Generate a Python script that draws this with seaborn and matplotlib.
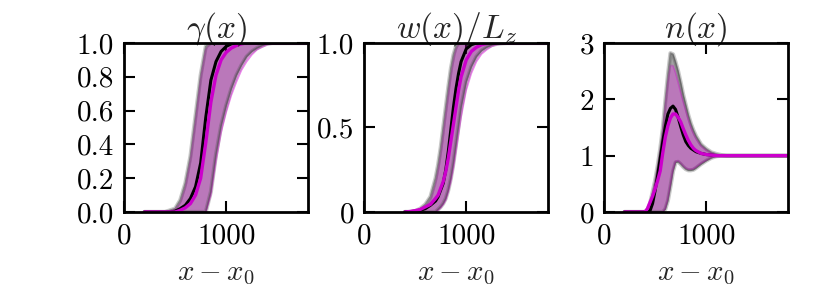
import numpy as np
import matplotlib
matplotlib.use("Agg")
import matplotlib.pyplot as plt
import seaborn as sns

# ---------------------------------------------
# data (x - x0 grid per panel)
# ---------------------------------------------

# panel 1 : gamma(x)
x1 = [200, 300, 400, 450, 500, 550, 600, 650, 700, 750, 800, 850, 900, 950,
      1000, 1050, 1100, 1150, 1200, 1250, 1300, 1350, 1400, 1450, 1500, 1600, 1700, 1800]
k_hi1 = [0, 0, 0, 0.01, 0.02, 0.07, 0.17, 0.33, 0.57, 0.81, 0.98, 1, 1, 1,
         1, 1, 1, 1, 1, 1, 1, 1, 1, 1, 1, 1, 1, 1]
k_lo1 = [0, 0, 0, 0, 0, 0, 0, 0, 0, 0, 0, 0.12, 0.34, 0.51,
         0.63, 0.73, 0.81, 0.87, 0.92, 0.95, 0.97, 0.985, 0.995, 1, 1, 1, 1, 1]
m_hi1 = [0, 0, 0, 0.005, 0.015, 0.05, 0.14, 0.30, 0.53, 0.78, 0.96, 1, 1, 1,
         1, 1, 1, 1, 1, 1, 1, 1, 1, 1, 1, 1, 1, 1]
m_lo1 = [0, 0, 0, 0, 0, 0, 0, 0, 0, 0, 0, 0.10, 0.30, 0.47,
         0.59, 0.69, 0.77, 0.84, 0.89, 0.93, 0.96, 0.975, 0.99, 0.995, 1, 1, 1, 1]
k_mean1 = [0, 0, 0, 0, 0.005, 0.02, 0.04, 0.08, 0.15, 0.29, 0.56, 0.78, 0.89, 0.95,
           0.98, 0.995, 1, 1, 1, 1, 1, 1, 1, 1, 1, 1, 1, 1]
m_mean1 = [0, 0, 0, 0, 0, 0.01, 0.025, 0.05, 0.10, 0.20, 0.41, 0.65, 0.81, 0.90,
           0.945, 0.97, 0.985, 0.995, 1, 1, 1, 1, 1, 1, 1, 1, 1, 1]

# panel 2 : w(x)/Lz
x2 = [400, 450, 500, 550, 600, 650, 700, 725, 750, 775, 800, 825, 850, 875, 900,
      925, 950, 1000, 1050, 1100, 1150, 1200, 1250, 1300, 1350, 1400, 1500, 1600, 1800]
k_hi2 = [0, 0, 0.005, 0.02, 0.045, 0.09, 0.20, 0.28, 0.38, 0.50, 0.62, 0.74, 0.85, 0.93, 0.98,
         1, 1, 1, 1, 1, 1, 1, 1, 1, 1, 1, 1, 1, 1]
k_lo2 = [0, 0, 0, 0, 0, 0, 0, 0.015, 0.03, 0.05, 0.08, 0.13, 0.20, 0.29, 0.40,
         0.51, 0.62, 0.77, 0.86, 0.92, 0.955, 0.975, 0.988, 0.995, 0.998, 1, 1, 1, 1]
m_hi2 = [0, 0, 0.003, 0.012, 0.03, 0.065, 0.16, 0.24, 0.33, 0.45, 0.57, 0.69, 0.80, 0.89, 0.96,
         0.99, 1, 1, 1, 1, 1, 1, 1, 1, 1, 1, 1, 1, 1]
m_lo2 = [0, 0, 0, 0, 0, 0, 0, 0.01, 0.025, 0.045, 0.07, 0.12, 0.18, 0.26, 0.36,
         0.46, 0.56, 0.72, 0.82, 0.89, 0.935, 0.96, 0.98, 0.99, 0.995, 0.998, 1, 1, 1]
k_mean2 = [0, 0.002, 0.005, 0.01, 0.02, 0.04, 0.065, 0.09, 0.13, 0.17, 0.25, 0.36, 0.49, 0.62, 0.73,
           0.82, 0.89, 0.965, 0.99, 1, 1, 1, 1, 1, 1, 1, 1, 1, 1]
m_mean2 = [0, 0.003, 0.008, 0.015, 0.03, 0.045, 0.08, 0.10, 0.14, 0.18, 0.24, 0.32, 0.42, 0.52, 0.62,
           0.72, 0.80, 0.90, 0.95, 0.975, 0.99, 0.997, 1, 1, 1, 1, 1, 1, 1]

# panel 3 : n(x)
x3 = [200, 300, 400, 425, 450, 475, 500, 525, 550, 575, 600, 625, 650, 675, 700, 725, 750,
      775, 800, 825, 850, 875, 900, 950, 1000, 1050, 1100, 1150, 1200, 1300, 1400, 1600, 1800]
k_hi3 = [0, 0, 0, 0.03, 0.15, 0.35, 0.56, 0.82, 1.12, 1.48, 1.97, 2.43, 2.82, 2.80, 2.66, 2.50, 2.30,
         2.08, 1.90, 1.72, 1.57, 1.45, 1.35, 1.20, 1.12, 1.06, 1.03, 1.01, 1, 1, 1, 1, 1]
k_lo3 = [0, 0, 0, 0, 0, 0, 0, 0, 0, 0, 0.05, 0.20, 0.45, 0.72, 0.88, 0.89, 0.85,
         0.80, 0.76, 0.74, 0.74, 0.75, 0.78, 0.85, 0.91, 0.96, 0.99, 1, 1, 1, 1, 1, 1]
m_hi3 = [0, 0, 0, 0.02, 0.12, 0.32, 0.53, 0.78, 1.07, 1.42, 1.88, 2.30, 2.60, 2.60, 2.47, 2.30, 2.12,
         1.95, 1.80, 1.64, 1.50, 1.39, 1.30, 1.17, 1.10, 1.05, 1.02, 1.005, 1, 1, 1, 1, 1]
m_lo3 = [0, 0, 0, 0, 0, 0, 0, 0, 0, 0, 0.07, 0.24, 0.50, 0.76, 0.90, 0.91, 0.87,
         0.82, 0.78, 0.76, 0.76, 0.77, 0.80, 0.87, 0.92, 0.97, 0.99, 1, 1, 1, 1, 1, 1]
k_mean3 = [0, 0, 0, 0, 0.02, 0.15, 0.38, 0.65, 0.95, 1.25, 1.52, 1.74, 1.84, 1.88, 1.82, 1.68, 1.52,
           1.37, 1.25, 1.18, 1.13, 1.10, 1.07, 1.04, 1.02, 1.01, 1, 1, 1, 1, 1, 1, 1]
m_mean3 = [0, 0, 0, 0.06, 0.17, 0.28, 0.41, 0.56, 0.73, 1.05, 1.33, 1.53, 1.67, 1.74, 1.74, 1.68, 1.60,
           1.48, 1.37, 1.27, 1.19, 1.13, 1.09, 1.04, 1.02, 1.01, 1, 1, 1, 1, 1, 1, 1]

titles = [r'$\gamma(x)$', r'$w(x)/L_z$', r'$n(x)$']
xlabel = r'$x-x_0$'
yticks = [[0, 0.2, 0.4, 0.6, 0.8, 1.0], [0, 0.5, 1.0], [0, 1, 2, 3]]
yticklabels = [['0.0', '0.2', '0.4', '0.6', '0.8', '1.0'], ['0', '0.5', '1.0'], ['0', '1', '2', '3']]
ylims = [(0, 1), (0, 1), (0, 3)]

panels = [
    (x1, k_hi1, k_lo1, m_hi1, m_lo1, k_mean1, m_mean1),
    (x2, k_hi2, k_lo2, m_hi2, m_lo2, k_mean2, m_mean2),
    (x3, k_hi3, k_lo3, m_hi3, m_lo3, k_mean3, m_mean3),
]

# ---------------------------------------------
# style
# ---------------------------------------------
sns.set_style('ticks')
plt.rcParams['font.family'] = 'serif'
plt.rcParams['font.serif'] = ['cmr10', 'DejaVu Serif']
plt.rcParams['mathtext.fontset'] = 'cm'
plt.rcParams['axes.formatter.use_mathtext'] = True
plt.rcParams['axes.unicode_minus'] = False

fig = plt.figure(figsize=(8.3, 2.91), dpi=100)
lefts = [124 / 830, 364 / 830, 604 / 830]

for i, (x, khi, klo, mhi, mlo, kmean, mmean) in enumerate(panels):
    ax = fig.add_axes([lefts[i], 79 / 291, 184 / 830, 169 / 291])

    # black ensemble envelope
    ax.fill_between(x, klo, khi, color='k', alpha=0.36, lw=0)
    for edge in (khi, klo):
        ax.plot(x, edge, color='0.3', lw=3, alpha=0.3, solid_capstyle='round')
        ax.plot(x, edge, color='0.3', lw=1.2, alpha=0.55)
    # magenta ensemble envelope
    ax.fill_between(x, mlo, mhi, color='#ff00ff', alpha=0.26, lw=0)
    for edge in (mhi, mlo):
        ax.plot(x, edge, color='m', lw=1.2, alpha=0.3)

    sns.lineplot(x=x, y=kmean, ax=ax, color='k', lw=2.2)
    sns.lineplot(x=x, y=mmean, ax=ax, color='#cc00cc', lw=2.4)

    ax.set_xlim(0, 1800)
    ax.set_ylim(*ylims[i])
    ax.set_xticks([0, 1000])
    ax.set_xticklabels(['0', '1000'])
    ax.set_yticks(yticks[i])
    ax.set_yticklabels(yticklabels[i])
    ax.tick_params(direction='in', top=True, right=True, length=8, width=1.5,
                   labelsize=21, colors='k')
    ax.tick_params(axis='x', pad=8)
    ax.tick_params(axis='y', pad=7)
    for sp in ax.spines.values():
        sp.set_linewidth(2)
        sp.set_color('k')
        sp.set_zorder(5)
    ax.set_title(titles[i], fontsize=24, pad=4)
    ax.set_xlabel(xlabel, fontsize=21, labelpad=8)
    ax.set_ylabel('')

fig.savefig('out.png', dpi=100)
